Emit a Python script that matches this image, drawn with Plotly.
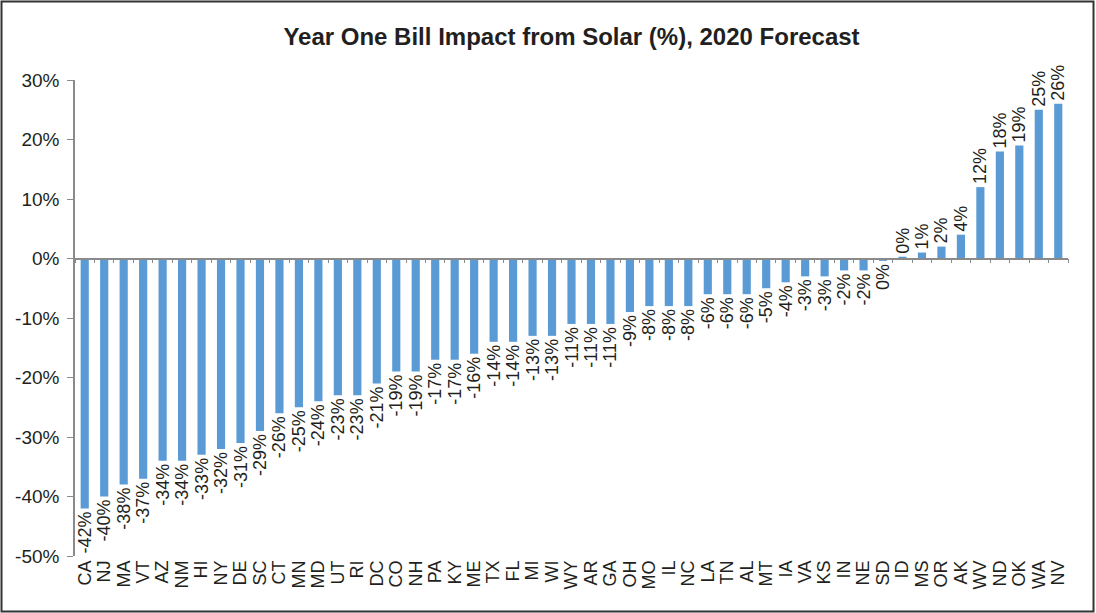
import plotly.graph_objects as go

states = ["CA","NJ","MA","VT","AZ","NM","HI","NY","DE","SC","CT","MN","MD","UT","RI","DC","CO","NH","PA","KY",
          "ME","TX","FL","MI","WI","WY","AR","GA","OH","MO","IL","NC","LA","TN","AL","MT","IA","VA","KS","IN",
          "NE","SD","ID","MS","OR","AK","WV","ND","OK","WA","NV"]
impact = [-42,-40,-38,-37,-34,-34,-33,-32,-31,-29,-26,-25,-24,-23,-23,-21,-19,-19,-17,-17,
          -16,-14,-14,-13,-13,-11,-11,-11,-9,-8,-8,-8,-6,-6,-6,-5,-4,-3,-3,-2,
          -2,-0.4,0.3,1,2,4,12,18,19,25,26]
labels = [f"{round(v):.0f}%" for v in impact]
y_ticks = [30, 20, 10, 0, -10, -20, -30, -40, -50]
y_tick_text = [f"{t}%" for t in y_ticks]

FONT = "Liberation Sans, Arial, Helvetica, sans-serif"
TXT = "#231f20"
AXIS = "#8a8a8a"

fig = go.Figure()
fig.add_trace(go.Bar(
    x=states, y=impact, text=labels, textposition="outside", textangle=-90,
    constraintext="none", cliponaxis=False,
    textfont=dict(family=FONT, size=18, color=TXT),
    marker=dict(color="#5b9bd5", line=dict(width=0)),
    hoverinfo="x+y", showlegend=False,
))
# invisible companion trace for the zero-crossing category axis
fig.add_trace(go.Scatter(
    x=states, y=impact, xaxis="x2", mode="markers",
    marker=dict(opacity=0), hoverinfo="skip", showlegend=False,
))

W, H = 1096, 613
l, r, t, b = 75, 28, 80, 57

fig.update_layout(
    width=W, height=H,
    margin=dict(l=l, r=r, t=t, b=b),
    paper_bgcolor="white", plot_bgcolor="white",
    bargap=0.58,
    title=dict(text="<b>Year One Bill Impact from Solar (%), 2020 Forecast</b>",
               x=0.5, xref="paper", xanchor="center", y=0.94, yanchor="middle",
               font=dict(family=FONT, size=24, color=TXT)),
    xaxis=dict(type="category", range=[-0.5, len(states) - 0.5], showline=False,
               showgrid=False, zeroline=False, ticks="", tickangle=-90,
               tickmode="array", tickvals=states, ticktext=states,
               tickfont=dict(family=FONT, size=18, color=TXT)),
    xaxis2=dict(type="category", overlaying="x", anchor="free",
                position=(0 - y_ticks[-1]) / (y_ticks[0] - y_ticks[-1]),
                range=[-0.5, len(states) - 0.5], showline=True, linecolor=AXIS, linewidth=1.5,
                ticks="outside", tickson="boundaries", ticklen=4, tickcolor=AXIS, tickwidth=1,
                showticklabels=False, showgrid=False, zeroline=False),
    yaxis=dict(range=[y_ticks[-1], y_ticks[0]], tickvals=y_ticks, ticktext=y_tick_text,
               showline=True, linecolor=AXIS, linewidth=1.5, ticks="outside", ticklen=6,
               tickcolor=AXIS, showgrid=False, zeroline=False, ticklabelstandoff=4,
               tickfont=dict(family=FONT, size=19, color=TXT)),
)

# outer frame
pw, ph = W - l - r, H - t - b
fig.add_shape(type="rect", xref="paper", yref="paper",
              x0=(1.5 - l) / pw, x1=(W - 2.5 - l) / pw,
              y0=-(b - 1.5) / ph, y1=1 + (t - 1.5) / ph,
              line=dict(color="#333333", width=2), layer="above")

fig.write_html("out.html", config={"displayModeBar": False},
               post_script="document.body.style.margin='0';document.body.style.overflow='hidden';")
